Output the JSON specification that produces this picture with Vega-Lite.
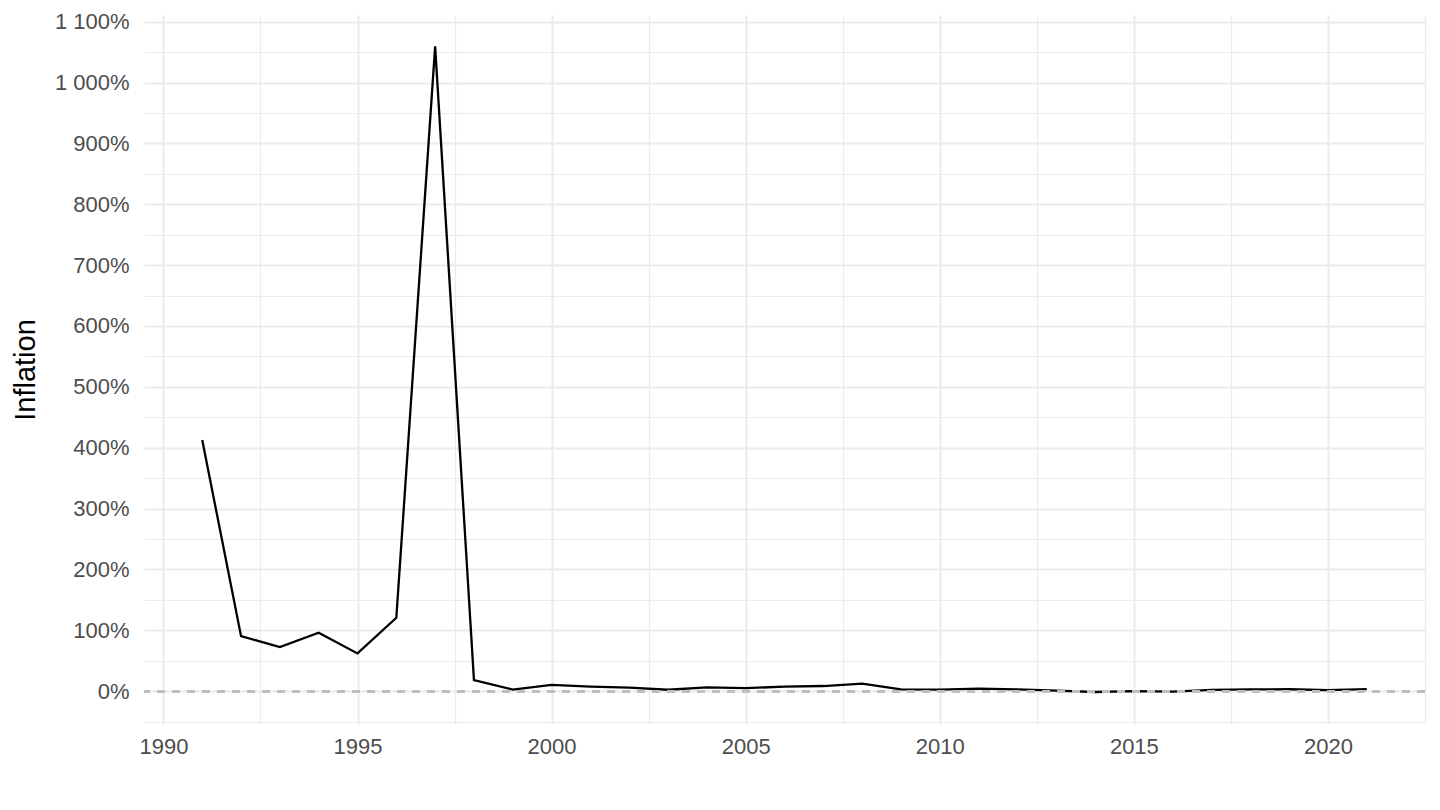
{
  "$schema": "https://vega.github.io/schema/vega-lite/v6.json",
  "width": 1281,
  "height": 709,
  "autosize": {"type": "none"},
  "padding": {"left": 144, "top": 15, "right": 15, "bottom": 86},
  "background": "white",
  "config": {
    "view": {"stroke": null},
    "font": "Liberation Sans",
    "axis": {
      "labelFont": "Liberation Sans",
      "titleFont": "Liberation Sans",
      "labelColor": "#4D4D4D",
      "labelFontSize": 22,
      "titleFontSize": 29,
      "titleFontWeight": "normal",
      "titleColor": "#000000",
      "domain": false,
      "ticks": false,
      "gridColor": "#EBEBEB",
      "gridWidth": 2
    }
  },
  "data": {
    "values": [
      {"year": 1991, "inflation": 412.7},
      {"year": 1992, "inflation": 90.4},
      {"year": 1993, "inflation": 72.3},
      {"year": 1994, "inflation": 96.0},
      {"year": 1995, "inflation": 62.0},
      {"year": 1996, "inflation": 120.5},
      {"year": 1997, "inflation": 1059.4},
      {"year": 1998, "inflation": 18.0},
      {"year": 1999, "inflation": 2.6},
      {"year": 2000, "inflation": 10.3},
      {"year": 2001, "inflation": 7.4},
      {"year": 2002, "inflation": 5.8},
      {"year": 2003, "inflation": 2.3},
      {"year": 2004, "inflation": 6.1},
      {"year": 2005, "inflation": 5.0},
      {"year": 2006, "inflation": 7.3},
      {"year": 2007, "inflation": 8.4},
      {"year": 2008, "inflation": 12.3},
      {"year": 2009, "inflation": 2.8},
      {"year": 2010, "inflation": 2.4},
      {"year": 2011, "inflation": 4.2},
      {"year": 2012, "inflation": 3.0},
      {"year": 2013, "inflation": 0.9},
      {"year": 2014, "inflation": -1.4},
      {"year": 2015, "inflation": -0.1},
      {"year": 2016, "inflation": -0.8},
      {"year": 2017, "inflation": 2.1},
      {"year": 2018, "inflation": 2.8},
      {"year": 2019, "inflation": 3.1},
      {"year": 2020, "inflation": 1.7},
      {"year": 2021, "inflation": 3.3}
    ]
  },
  "layer": [
    {
      "mark": {"type": "rule", "strokeWidth": 0},
      "encoding": {
        "x": {
          "field": "year", "type": "quantitative",
          "scale": {"domain": [1989.5, 2022.5], "nice": false, "zero": false},
          "axis": {"orient": "bottom", "values": [1992.5, 1997.5, 2002.5, 2007.5, 2012.5, 2017.5, 2022.5], "labels": false, "title": null, "grid": true, "gridWidth": 1.2}
        },
        "y": {
          "field": "inflation", "type": "quantitative",
          "scale": {"domain": [-54, 1111], "nice": false, "zero": false},
          "axis": {"orient": "left", "values": [-50, 50, 150, 250, 350, 450, 550, 650, 750, 850, 950, 1050], "labels": false, "title": null, "grid": true, "gridWidth": 1.2}
        }
      }
    },
    {
      "mark": {"type": "line", "color": "black", "strokeWidth": 2.3},
      "encoding": {
        "x": {
          "field": "year", "type": "quantitative",
          "axis": {"orient": "bottom", "values": [1990, 1995, 2000, 2005, 2010, 2015, 2020], "format": "d", "title": null, "grid": true, "labelPadding": 12}
        },
        "y": {
          "field": "inflation", "type": "quantitative",
          "axis": {
            "orient": "left",
            "values": [0, 100, 200, 300, 400, 500, 600, 700, 800, 900, 1000, 1100],
            "labelExpr": "replace(format(datum.value, ','), ',', ' ') + '%'",
            "title": "Inflation",
            "titlePadding": 14,
            "labelPadding": 15,
            "grid": true
          }
        }
      }
    },
    {
      "mark": {"type": "rule", "color": "#BEBEBE", "strokeWidth": 2, "strokeDash": [8, 7]},
      "encoding": {"y": {"datum": 0, "axis": null}}
    }
  ],
  "resolve": {"axis": {"x": "independent", "y": "independent"}}
}
